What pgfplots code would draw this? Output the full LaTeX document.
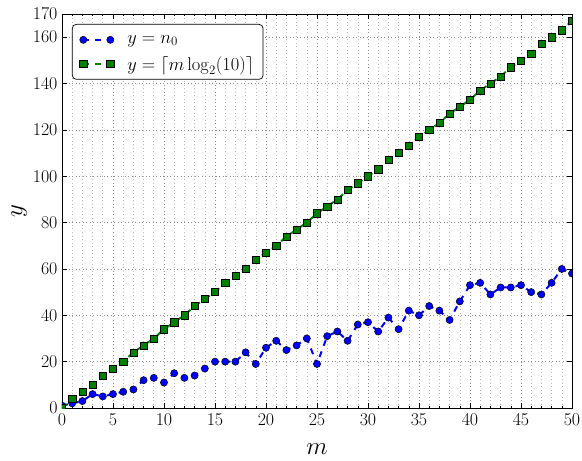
\RequirePackage{fix-cm}
\documentclass[border=0pt]{standalone}
\usepackage{pgfplots}
\pgfplotsset{compat=1.18}

\definecolor{mplblue}{RGB}{0,0,255}
\definecolor{mplgreen}{RGB}{0,128,0}

\pgfplotstableread{
m n0
0 1
1 2
2 3
3 6
4 5
5 6
6 7
7 8
8 12
9 13
10 11
11 15
12 13
13 14
14 17
15 20
16 20
17 20
18 24
19 19
20 26
21 29
22 25
23 27
24 30
25 19
26 31
27 33
28 29
29 36
30 37
31 33
32 39
33 34
34 42
35 40
36 44
37 42
38 38
39 46
40 53
41 54
42 49
43 52
44 52
45 53
46 50
47 49
48 54
49 60
50 58
}\noughttable

\pgfplotstableread{
m c
0 0
1 4
2 7
3 10
4 14
5 17
6 20
7 24
8 27
9 30
10 34
11 37
12 40
13 44
14 47
15 50
16 54
17 57
18 60
19 64
20 67
21 70
22 74
23 77
24 80
25 84
26 87
27 90
28 94
29 97
30 100
31 103
32 107
33 110
34 113
35 117
36 120
37 123
38 127
39 130
40 133
41 137
42 140
43 143
44 147
45 150
46 153
47 157
48 160
49 163
50 167
}\ceiltable

\begin{document}
\begin{tikzpicture}
\useasboundingbox (-62bp,-53bp) rectangle (520bp,408bp);
\begin{axis}[
  at={(0,0)}, anchor=south west,
  scale only axis,
  width=510bp, height=394bp,
  xmin=0, xmax=50, ymin=0, ymax=170,
  xtick distance=5,
  minor x tick num=4,
  ytick={0,20,...,160,170},
  tick align=inside,
  tick pos=both,
  major tick length=5bp,
  minor tick length=2.5bp,
  every tick/.style={black, line width=0.6bp},
  axis line style={black, line width=0.9bp},
  grid=both,
  major grid style={dash pattern=on 1bp off 2.5bp, black!45, line width=0.6bp},
  minor grid style={dash pattern=on 1bp off 2.5bp, black!28, line width=0.6bp},
  ticklabel style={font=\fontsize{18}{20}\selectfont},
  xticklabel style={yshift=-2bp},
  yticklabel style={xshift=-1bp},
  xlabel={$m$}, ylabel={$y$},
  label style={font=\fontsize{25}{28}\selectfont},
  xlabel style={yshift=-12bp},
  ylabel style={yshift=-1bp},
  clip marker paths=true,
  legend style={
    at={(0,1)}, anchor=north west, xshift=10bp, yshift=-10bp,
    draw=black, line width=0.7bp, rounded corners=4bp,
    font=\fontsize{18.5}{20}\selectfont,
    inner xsep=6bp, inner ysep=3.5bp, row sep=0bp,
    nodes={inner xsep=3bp, inner ysep=0bp},
  },
  legend cell align=left,
  legend image code/.code={
    \path[draw=none, fill=none] (0bp,-12bp) rectangle (46bp,12bp);
    \draw[#1, line width=2bp, sharp corners] plot coordinates {(5bp,0bp) (32bp,0bp)};
  },
]
\addplot [mplblue, line width=2bp, dash pattern=on 6bp off 6bp,
  mark=*, mark size=3.6bp,
  mark options={solid, fill=mplblue, draw=black, line width=0.5bp}]
  table [x=m, y=n0] {\noughttable};
\addlegendentry{$y = n_0$}
\addplot [mplgreen, line width=2bp, dash pattern=on 6bp off 6bp,
  mark=square*, mark size=3.6bp,
  mark options={solid, fill=mplgreen, draw=black, line width=0.5bp}]
  table [x=m, y=c] {\ceiltable};
\addlegendentry{$y = \lceil m\log_2(10)\rceil$}
\end{axis}
\end{tikzpicture}
\end{document}
